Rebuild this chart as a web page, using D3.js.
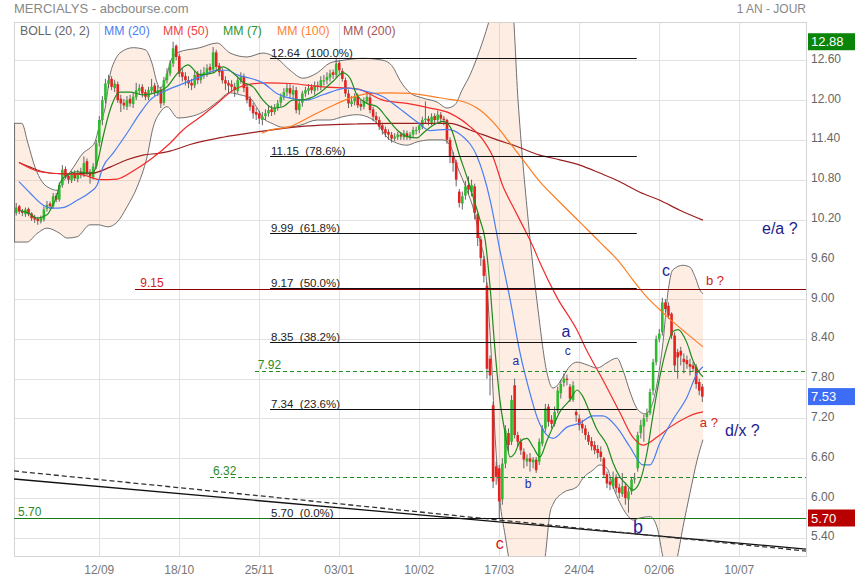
<!DOCTYPE html>
<html><head><meta charset="utf-8">
<script src="https://cdn.jsdelivr.net/npm/d3@7/dist/d3.min.js"></script>
<style>
body{margin:0;background:#fff;}
svg{display:block;font-family:"Liberation Sans",Arial,sans-serif;}
</style></head><body>
<svg id="c" width="855" height="580"></svg>
<script>
// ---------- DATA ----------
const firstDay = -27; // trading-day index of first candle (0 = 12/09)
const dateTicks = [0, 26, 52, 78, 104, 130, 156, 182, 208];
const dateLabels = ["12/09","18/10","25/11","03/01","10/02","17/03","24/04","02/06","10/07"];
const priceTicks = [12.6, 12.0, 11.4, 10.8, 10.2, 9.6, 9.0, 8.4, 7.8, 7.2, 6.6, 6.0, 5.4];

const closes = [
10.38,10.32,10.30,10.35,10.28,10.22,10.20,10.18,10.22,10.35,
10.42,10.40,10.55,10.50,10.72,10.95,10.85,10.80,10.88,10.82,
10.90,10.88,11.05,10.90,10.85,11.00,11.35,11.70,12.00,12.25,
12.30,12.20,12.25,12.00,11.95,11.92,12.00,11.95,12.05,12.15,
12.18,12.10,12.05,12.15,12.20,12.12,12.15,11.95,12.30,12.40,
12.55,12.78,12.65,12.40,12.35,12.30,12.25,12.22,12.38,12.30,
12.40,12.42,12.48,12.45,12.72,12.50,12.42,12.30,12.25,12.22,
12.20,12.15,12.30,12.35,12.18,12.00,11.90,11.80,11.78,11.72,
11.75,11.80,11.85,11.82,11.88,11.95,12.05,12.12,12.18,12.10,
12.15,11.85,11.95,12.10,12.15,12.18,12.15,12.22,12.20,12.30,
12.30,12.35,12.40,12.38,12.55,12.45,12.32,12.10,11.95,11.98,
12.05,11.92,11.90,11.98,12.05,11.85,11.75,11.70,11.60,11.55,
11.50,11.48,11.42,11.45,11.48,11.45,11.50,11.45,11.48,11.55,
11.55,11.62,11.70,11.72,11.68,11.75,11.70,11.78,11.72,11.70,
11.40,11.15,11.05,10.80,10.45,10.55,10.70,10.65,10.72,10.30,
9.92,9.62,9.35,7.95,7.85,6.25,6.32,5.95,6.52,7.02,
6.80,7.48,6.95,6.85,6.72,6.58,6.60,6.55,6.58,6.42,
6.85,7.05,7.35,7.15,7.12,7.30,7.62,7.72,7.80,7.78,
7.50,7.70,7.25,7.10,7.05,6.95,6.85,6.78,6.72,6.68,
6.62,6.35,6.22,6.20,6.30,6.15,6.08,6.18,6.00,6.10,
6.28,6.30,6.95,7.10,7.20,7.28,7.60,8.05,8.40,8.48,
8.95,8.85,8.75,8.45,8.00,8.12,8.15,8.05,8.02,7.98,
7.95,7.72,7.62,7.53
];
const opens = [
10.30,10.40,10.33,10.28,10.36,10.29,10.24,10.21,10.17,10.20,
10.36,10.44,10.40,10.56,10.50,10.72,10.96,10.86,10.79,10.90,
10.81,10.92,10.88,11.08,10.92,10.84,11.00,11.36,11.70,12.00,
12.24,12.32,12.18,12.24,12.02,11.96,11.90,12.02,11.94,12.04,
12.14,12.20,12.12,12.04,12.14,12.22,12.10,12.16,11.96,12.30,
12.40,12.55,12.82,12.66,12.42,12.36,12.30,12.26,12.22,12.40,
12.30,12.38,12.40,12.50,12.46,12.72,12.52,12.44,12.30,12.26,
12.24,12.20,12.14,12.30,12.36,12.20,12.02,11.92,11.82,11.80,
11.70,11.76,11.80,11.86,11.82,11.88,11.96,12.04,12.12,12.18,
12.08,12.15,11.85,11.96,12.10,12.14,12.20,12.14,12.22,12.20,
12.28,12.30,12.34,12.42,12.38,12.56,12.44,12.30,12.10,11.94,
11.98,12.05,11.94,11.90,11.98,12.04,11.86,11.76,11.70,11.62,
11.56,11.52,11.48,11.42,11.44,11.48,11.44,11.50,11.44,11.48,
11.54,11.55,11.60,11.70,11.72,11.66,11.76,11.70,11.78,11.72,
11.70,11.40,11.16,11.06,10.62,10.44,10.56,10.72,10.62,10.70,
10.28,9.90,9.60,9.20,8.10,7.40,6.48,6.45,5.98,6.52,
6.98,6.85,7.70,6.95,6.85,6.70,6.55,6.60,6.54,6.58,
6.55,6.82,7.05,7.38,7.18,7.12,7.32,7.58,7.74,7.80,
7.68,7.48,7.30,7.20,7.12,7.05,6.95,6.86,6.80,6.74,
6.70,6.60,6.36,6.25,6.18,6.32,6.16,6.06,6.18,5.98,
6.10,6.28,6.45,6.98,7.08,7.22,7.28,7.62,8.05,8.40,
8.50,8.95,8.90,8.78,8.45,8.20,8.22,8.10,8.08,8.02,
8.00,7.98,7.75,7.68
];
const highs = [
10.45,10.42,10.36,10.38,10.38,10.31,10.27,10.24,10.26,10.40,
10.48,10.47,10.60,10.60,10.76,11.02,11.00,10.90,10.93,10.94,
10.95,10.98,11.15,11.12,10.96,11.05,11.40,11.76,12.06,12.32,
12.38,12.36,12.30,12.28,12.08,12.02,12.06,12.08,12.12,12.26,
12.24,12.24,12.16,12.20,12.32,12.26,12.22,12.20,12.35,12.48,
12.60,12.88,12.84,12.70,12.48,12.42,12.36,12.32,12.45,12.44,
12.46,12.50,12.54,12.55,12.80,12.76,12.56,12.48,12.36,12.30,
12.30,12.26,12.36,12.42,12.40,12.24,12.06,11.96,11.88,11.84,
11.82,11.86,11.92,11.92,11.94,12.00,12.10,12.18,12.25,12.24,
12.22,12.20,12.00,12.14,12.20,12.24,12.24,12.28,12.28,12.36,
12.38,12.42,12.46,12.46,12.64,12.60,12.48,12.34,12.16,12.06,
12.10,12.10,12.00,12.04,12.12,12.08,11.90,11.82,11.75,11.66,
11.60,11.56,11.52,11.50,11.52,11.52,11.55,11.54,11.52,11.60,
11.60,11.66,11.75,11.98,11.76,11.80,11.80,11.84,11.82,11.76,
11.72,11.44,11.22,11.10,10.66,10.62,10.78,10.85,10.80,10.74,
10.30,9.95,9.65,9.25,8.15,7.45,6.55,6.50,6.60,7.10,
7.05,7.55,7.80,7.00,6.90,6.75,6.66,6.68,6.62,6.62,
6.90,7.10,7.42,7.42,7.25,7.38,7.68,7.78,7.88,7.86,
7.72,7.76,7.34,7.26,7.18,7.10,7.00,6.92,6.86,6.80,
6.78,6.62,6.40,6.30,6.40,6.36,6.22,6.38,6.22,6.15,
6.32,6.38,7.00,7.18,7.26,7.35,7.65,8.10,8.45,8.55,
9.02,9.00,8.95,8.80,8.50,8.25,8.28,8.18,8.15,8.10,
8.05,8.02,7.80,7.72
];
const lows = [
10.26,10.28,10.25,10.24,10.25,10.18,10.15,10.12,10.14,10.17,
10.32,10.35,10.36,10.46,10.47,10.68,10.82,10.74,10.75,10.78,
10.76,10.82,10.84,10.86,10.74,10.80,10.96,11.30,11.62,11.95,
12.18,12.15,12.12,11.96,11.82,11.86,11.85,11.90,11.88,12.00,
12.08,12.04,12.00,12.00,12.10,12.06,12.06,11.88,11.92,12.25,
12.36,12.50,12.60,12.35,12.28,12.22,12.18,12.15,12.18,12.24,
12.25,12.32,12.35,12.40,12.42,12.45,12.36,12.25,12.15,12.10,
12.12,12.05,12.10,12.25,12.12,11.95,11.84,11.72,11.70,11.64,
11.62,11.70,11.75,11.76,11.78,11.84,11.90,12.00,12.06,12.02,
12.02,11.80,11.78,11.90,12.05,12.08,12.10,12.08,12.14,12.15,
12.22,12.24,12.28,12.32,12.34,12.40,12.28,12.05,11.88,11.90,
11.92,11.88,11.84,11.86,11.94,11.80,11.68,11.64,11.55,11.48,
11.44,11.40,11.36,11.38,11.40,11.40,11.40,11.40,11.40,11.44,
11.48,11.50,11.56,11.64,11.62,11.62,11.64,11.66,11.66,11.62,
11.34,11.05,10.92,10.70,10.38,10.35,10.50,10.58,10.55,10.20,
9.80,9.50,9.25,7.80,7.55,6.15,6.20,5.70,5.90,6.45,
6.70,6.80,6.90,6.78,6.65,6.45,6.48,6.40,6.45,6.38,
6.50,6.78,7.00,7.08,7.05,7.08,7.28,7.50,7.68,7.70,
7.45,7.45,7.15,7.02,6.98,6.88,6.80,6.72,6.66,6.60,
6.55,6.30,6.15,6.12,6.14,6.08,6.00,6.02,5.90,5.78,
6.05,6.22,6.40,6.90,6.85,7.15,7.25,7.55,8.00,8.35,
8.45,8.80,8.70,8.40,7.90,7.80,8.00,7.88,7.95,7.85,
7.90,7.65,7.55,7.45
];

// indicator lines: [trading-day index, price]
const mm7 = [[-26.1,10.34],[-23.2,10.30],[-20.2,10.22],[-17.0,10.27],[-15.4,10.39],[-13.7,10.57],[-12.8,10.75],[-10.5,10.87],[-7.2,10.92],[-4.0,10.90],[-2.0,10.91],[-0.4,11.10],[1.2,11.44],[3.5,11.85],[6.7,12.12],[10.0,12.12],[14.2,12.08],[18.8,12.12],[22.0,12.20],[25.3,12.40],[28.8,12.53],[32.7,12.38],[37.0,12.41],[40.2,12.50],[43.5,12.41],[46.7,12.27],[50.0,12.20],[53.2,12.00],[56.4,11.88],[59.7,11.90],[62.9,12.00],[65.2,12.00],[68.5,12.03],[72.7,12.15],[75.9,12.28],[79.2,12.41],[81.5,12.33],[83.7,12.08],[87.0,11.95],[90.3,11.90],[93.5,11.73],[96.8,11.55],[100.0,11.45],[103.3,11.43],[105.2,11.50],[108.5,11.62],[111.7,11.68],[114.0,11.60],[117.2,11.15],[119.5,10.84],[121.5,10.54],[123.7,10.20],[125.4,9.90],[127.0,9.19],[128.6,8.24],[130.2,7.48],[131.9,6.98],[133.5,6.62],[135.1,6.68],[136.7,6.85],[139.0,6.90],[141.0,6.77],[143.2,6.62],[145.5,6.87],[147.4,7.07],[149.7,7.30],[153.0,7.48],[155.3,7.63],[157.2,7.53],[159.5,7.28],[161.8,7.03],[165.0,6.80],[167.0,6.53],[169.2,6.32],[171.5,6.20],[173.4,6.12],[175.7,6.25],[178.0,6.68],[179.9,7.23],[182.2,7.83],[184.5,8.28],[186.4,8.51],[188.1,8.54],[191.0,8.34],[192.9,8.08],[195.2,7.88],[196.2,7.83]];
const mm20 = [[-26.1,10.77],[-22.5,10.60],[-18.3,10.42],[-15.0,10.37],[-11.8,10.38],[-7.2,10.49],[-3.0,10.61],[-0.7,10.72],[1.2,10.99],[4.5,11.20],[9.0,11.50],[13.2,11.80],[16.5,12.00],[22.0,12.15],[26.2,12.23],[32.7,12.35],[38.3,12.45],[41.5,12.45],[44.8,12.38],[49.0,12.33],[53.2,12.26],[57.7,12.10],[62.0,12.03],[67.5,12.00],[72.7,12.08],[80.5,12.18],[87.0,12.13],[92.2,12.05],[96.8,11.90],[103.3,11.67],[107.5,11.54],[113.0,11.56],[118.2,11.45],[122.8,11.15],[127.0,10.50],[130.2,9.74],[133.5,9.00],[136.7,8.20],[140.0,7.58],[142.6,7.18],[145.5,6.95],[147.5,6.90],[152.0,7.07],[156.2,7.13],[160.4,7.24],[163.7,7.24],[168.2,7.07],[172.5,6.77],[176.7,6.50],[179.0,6.50],[182.2,6.83],[186.4,7.18],[191.0,7.52],[194.3,7.88],[196.2,7.98]];
const mm50 = [[-26.1,11.06],[-19.3,10.92],[-12.8,10.89],[-6.3,10.88],[-3.0,10.84],[0.2,10.80],[5.8,10.81],[11.0,10.93],[16.5,11.10],[23.0,11.35],[27.2,11.55],[32.7,11.74],[38.3,11.95],[43.5,12.15],[48.0,12.23],[54.5,12.26],[62.0,12.25],[72.7,12.20],[83.7,12.17],[92.2,12.00],[100.0,11.95],[107.5,11.88],[114.0,11.80],[120.5,11.60],[124.7,11.40],[127.9,11.15],[131.2,10.70],[134.4,10.40],[137.7,10.10],[141.0,9.79],[143.2,9.55],[148.7,9.03],[155.3,8.53],[158.5,8.22],[163.7,7.78],[169.2,7.29],[173.4,6.92],[176.7,6.80],[181.3,6.92],[185.5,7.07],[191.0,7.22],[194.3,7.28],[196.2,7.30]];
const mm100 = [[52.8,11.50],[55.5,11.55],[62.0,11.60],[68.5,11.75],[75.0,11.90],[81.5,12.03],[88.0,12.10],[94.5,12.11],[101.0,12.10],[107.5,12.06],[114.0,12.01],[117.2,11.99],[123.7,11.85],[129.3,11.60],[133.5,11.35],[137.7,11.10],[143.2,10.77],[149.7,10.46],[156.2,10.16],[162.7,9.86],[169.2,9.55],[173.4,9.29],[178.0,9.03],[182.2,8.84],[186.4,8.66],[191.0,8.48],[196.2,8.28]];
const mm200 = [[-26.1,11.06],[-22.5,10.99],[-18.3,10.92],[-12.8,10.89],[-7.2,10.89],[-2.0,10.90],[3.5,10.99],[9.0,11.10],[14.2,11.17],[19.7,11.20],[23.0,11.23],[29.5,11.33],[40.2,11.44],[51.3,11.52],[65.2,11.60],[83.7,11.64],[94.5,11.65],[107.5,11.65],[114.0,11.65],[120.5,11.55],[129.3,11.40],[135.8,11.30],[143.2,11.17],[149.7,11.10],[156.2,11.02],[162.7,10.90],[169.2,10.77],[175.7,10.61],[182.2,10.49],[188.7,10.34],[196.2,10.19]];
const bollUpper = [[-27.7,11.65],[-25.2,11.65],[-23.2,11.35],[-20.9,10.99],[-18.6,10.77],[-16.0,10.67],[-13.7,10.64],[-11.8,10.77],[-8.5,10.98],[-5.3,11.20],[-3.0,11.28],[-1.4,11.37],[0.2,11.65],[1.9,11.88],[3.5,12.38],[5.1,12.60],[6.7,12.71],[11.0,12.79],[14.9,12.76],[17.1,12.56],[18.8,12.26],[19.7,12.18],[21.4,12.30],[23.6,12.63],[25.6,12.72],[32.7,12.79],[38.3,12.86],[42.5,12.71],[48.0,12.65],[53.2,12.71],[57.7,12.63],[62.0,12.45],[66.2,12.33],[70.8,12.41],[75.0,12.56],[79.2,12.60],[85.7,12.63],[92.2,12.60],[95.4,12.50],[97.7,12.30],[101.0,12.11],[105.2,12.03],[109.8,11.97],[113.0,11.88],[115.6,11.93],[117.9,12.15],[120.5,12.38],[123.7,12.76],[126.3,13.13],[128.6,13.51],[131.2,13.73],[134.1,13.51],[136.1,12.00],[139.4,10.19],[142.6,8.84],[145.5,7.89],[147.4,7.66],[149.1,7.71],[150.7,7.83],[153.0,7.99],[155.3,8.05],[158.5,8.01],[161.8,7.96],[165.0,8.04],[168.2,8.11],[170.2,7.93],[172.5,7.60],[175.1,7.33],[177.4,7.27],[179.6,7.40],[181.3,7.73],[183.2,8.34],[184.8,9.09],[186.4,9.44],[189.7,9.51],[192.0,9.48],[193.7,9.33],[195.2,9.14],[196.2,9.08]];
const bollLower = [[-27.7,9.86],[-23.5,9.86],[-20.2,9.99],[-17.0,10.07],[-12.8,9.99],[-10.5,9.92],[-7.2,9.94],[-3.0,10.12],[-0.4,10.12],[2.8,10.09],[5.8,10.16],[9.0,10.39],[12.3,10.69],[15.5,11.14],[17.5,11.59],[19.7,11.81],[22.0,11.90],[25.6,11.73],[29.5,11.75],[33.7,11.82],[38.3,11.97],[42.5,12.11],[45.7,12.08],[49.0,12.03],[51.3,11.88],[53.2,11.73],[56.1,11.65],[59.7,11.59],[65.2,11.62],[70.8,11.70],[75.0,11.70],[79.2,11.75],[83.7,11.78],[87.0,11.75],[90.3,11.65],[93.5,11.44],[96.8,11.35],[100.0,11.32],[103.3,11.37],[107.5,11.40],[111.7,11.40],[114.0,11.32],[116.2,11.02],[119.5,10.64],[122.1,10.27],[123.7,9.89],[125.4,9.51],[126.3,8.99],[127.6,7.98],[128.6,6.98],[130.2,5.97],[131.9,5.44],[133.5,4.99],[136.7,4.46],[140.0,4.46],[143.2,4.84],[144.9,5.11],[146.5,5.78],[147.4,5.90],[150.7,6.08],[155.3,6.17],[157.2,6.30],[160.4,6.42],[162.7,6.50],[165.0,6.45],[167.0,6.17],[169.2,5.93],[171.5,5.75],[173.4,5.67],[175.7,5.70],[179.0,5.72],[181.3,5.56],[183.2,5.11],[185.5,4.76],[187.7,5.07],[189.7,5.56],[192.0,6.08],[194.3,6.57],[196.2,6.88]];

// Fibonacci retracement
const fibValues = [12.64, 11.15, 9.99, 9.17, 8.35, 7.34, 5.70];
const fibPct = ["100.0%", "78.6%", "61.8%", "50.0%", "38.2%", "23.6%", "0.0%"];
const fibSpan = [55.5, 174.7];
// horizontal levels: value, start index
const levelValues = [9.15, 7.92, 6.32, 5.70];
const levelStart = [11.6, 50.6, 36.0, -27.7];
const levelLabelAt = [13.3, 51.5, 37.0, -26.4];
// trend lines [index, price]
const trendSolid = [[-27.72, 6.288], [229.7, 5.232]];
const trendDashed = [[-27.72, 6.409], [229.7, 5.202]];
// wave labels
const waveText = ["c", "a", "b", "a", "c", "b", "c", "b ?", "a ?", "d/x ?", "e/a ?"];
const waveAt = [[130.2,5.23],[135.4,8.01],[139.4,6.15],[151.7,8.43],[152.3,8.16],[175.1,5.47],[184.2,9.35],[197.2,9.21],[195.2,7.07],[203.4,6.94],[215.4,9.98]];
const waveKind = ["redBig","blueSmall","blueSmall","blueBig","blueSmall","blueHuge","blueBig","redSmall","redSmall","navyStart","navyStart"];
// price tags on the axis
const tagValues = [12.88, 7.53, 5.70];
const legendNames = ["BOLL (20, 2)", "MM (20)", "MM (50)", "MM (7)", "MM (100)", "MM (200)"];

// ---------- DRAW ----------
const L = 14, R = 806, T = 22.7, B = 556.3;
const x = d3.scaleLinear().domain([-27.72, 229.7]).range([L, R]);
const y = d3.scaleLinear().domain([5.4, 12.6]).range([537.9, 60.3]);
const svg = d3.select("#c");
svg.append("rect").attr("width", 855).attr("height", 580).attr("fill", "#fff");
svg.append("defs").append("clipPath").attr("id", "plot")
  .append("rect").attr("x", L).attr("y", T).attr("width", R - L).attr("height", B - T);

const snap = v => Math.round(v) + 0.5;
// grid
const grid = svg.append("g").attr("shape-rendering", "crispEdges");
priceTicks.forEach(v => grid.append("line").attr("x1", L).attr("x2", R)
  .attr("y1", snap(y(v))).attr("y2", snap(y(v))).attr("stroke", "#e2e2e2"));
dateTicks.forEach(d => grid.append("line").attr("y1", T).attr("y2", B)
  .attr("x1", snap(x(d))).attr("x2", snap(x(d))).attr("stroke", "#e2e2e2"));
grid.append("rect").attr("x", L + 0.5).attr("y", T).attr("width", R - L).attr("height", B - T)
  .attr("fill", "none").attr("stroke", "#d4d4d4");

const plot = svg.append("g").attr("clip-path", "url(#plot)");
const line = d3.line().x(d => x(d[0])).y(d => y(d[1])).curve(d3.curveMonotoneX);

// Bollinger band
const upPath = line(bollUpper);
const lowRev = line(bollLower.slice().reverse());
plot.append("path").attr("d", upPath + "L" + lowRev.slice(1) + "Z")
  .attr("fill", "rgba(245,165,115,0.2)");
plot.append("path").attr("d", upPath).attr("fill", "none").attr("stroke", "#707070").attr("stroke-width", 1);
plot.append("path").attr("d", line(bollLower)).attr("fill", "none").attr("stroke", "#707070").attr("stroke-width", 1);
plot.append("line").attr("x1", x(bollUpper[0][0]) + 0.5).attr("x2", x(bollLower[0][0]) + 0.5)
  .attr("y1", y(bollUpper[0][1])).attr("y2", y(bollLower[0][1])).attr("stroke", "#707070");

// candles
const candles = closes.map((c, k) => ({ i: firstDay + k, o: opens[k], h: highs[k], l: lows[k], c }));
const cg = plot.append("g");
candles.forEach(d => {
  const up = d.c >= d.o;
  const cx = x(d.i);
  cg.append("line").attr("x1", cx).attr("x2", cx).attr("y1", y(d.h)).attr("y2", y(d.l))
    .attr("stroke", "#555").attr("stroke-width", 0.9);
  const top = y(Math.max(d.o, d.c)), bot = y(Math.min(d.o, d.c));
  cg.append("rect").attr("x", cx - 1.3).attr("width", 2.6).attr("y", top)
    .attr("height", Math.max(1, bot - top)).attr("fill", up ? "#2fba2f" : "#e2231f");
});

// moving averages
const maSeries = [[mm200, "#9b2121"], [mm100, "#ff7d22"], [mm50, "#f22b2b"], [mm20, "#4a7df2"], [mm7, "#1e8c1e"]];
maSeries.forEach(([data, col]) => plot.append("path").attr("d", line(data))
  .attr("fill", "none").attr("stroke", col).attr("stroke-width", 1.2));

// trend lines
plot.append("path").attr("d", d3.line().x(d => x(d[0])).y(d => y(d[1]))(trendSolid))
  .attr("stroke", "#111").attr("stroke-width", 1.3).attr("fill", "none");
plot.append("path").attr("d", d3.line().x(d => x(d[0])).y(d => y(d[1]))(trendDashed))
  .attr("stroke", "#333").attr("stroke-width", 1.3).attr("stroke-dasharray", "5,3").attr("fill", "none");

// horizontal levels
const levelStyle = [
  { col: "#8b0000", dash: null },
  { col: "#1f8a1f", dash: "4,3" },
  { col: "#1f8a1f", dash: "4,3" },
  { col: "#1a7a1a", dash: null }
];
const levelTextCol = ["#d42020", "#2a8a2a", "#2a8a2a", "#2a8a2a"];
levelValues.forEach((v, k) => {
  const yy = snap(y(v));
  const ln = plot.append("line").attr("x1", x(levelStart[k])).attr("x2", R).attr("y1", yy).attr("y2", yy)
    .attr("stroke", levelStyle[k].col).attr("stroke-width", 1);
  if (levelStyle[k].dash) ln.attr("stroke-dasharray", levelStyle[k].dash);
  svg.append("text").attr("x", x(levelLabelAt[k])).attr("y", yy - 3)
    .attr("font-size", 12).attr("fill", levelTextCol[k]).text(v.toFixed(2));
});

// fibonacci lines
fibValues.forEach((v, k) => {
  const yy = snap(y(v));
  plot.append("line").attr("x1", x(fibSpan[0])).attr("x2", x(fibSpan[1])).attr("y1", yy).attr("y2", yy)
    .attr("stroke", "#111").attr("stroke-width", 1);
  svg.append("text").attr("x", x(fibSpan[0]) + 1).attr("y", yy - 2).attr("font-size", 11.5)
    .attr("fill", "#222").attr("xml:space", "preserve").text(v.toFixed(2) + "  (" + fibPct[k] + ")");
});

// wave labels
const waveStyle = {
  redBig: { size: 16, col: "#e01010", anchor: "middle" },
  redSmall: { size: 13, col: "#d42020", anchor: "start" },
  blueSmall: { size: 12, col: "#2727a8", anchor: "middle" },
  blueBig: { size: 16, col: "#22229a", anchor: "middle" },
  blueHuge: { size: 18, col: "#22229a", anchor: "middle" },
  navyStart: { size: 16, col: "#1c1c8e", anchor: "start" }
};
waveText.forEach((t, k) => {
  const st = waveStyle[waveKind[k]];
  svg.append("text").attr("x", x(waveAt[k][0])).attr("y", y(waveAt[k][1]))
    .attr("font-size", st.size).attr("fill", st.col).attr("text-anchor", st.anchor)
    .attr("xml:space", "preserve").text(t);
});

// legend
const legendCols = ["#666", "#4a7df2", "#f04444", "#2a962a", "#ff8233", "#a55555"];
const legendX = [20, 104, 163, 223, 277, 343];
legendNames.forEach((n, k) => svg.append("text").attr("x", legendX[k]).attr("y", 35)
  .attr("font-size", 12.3).attr("fill", legendCols[k]).text(n));

// axes
priceTicks.forEach(v => svg.append("text").attr("x", 811).attr("y", y(v) + 2.5)
  .attr("font-size", 12).attr("fill", "#666").text(v.toFixed(2)));
dateTicks.forEach((d, k) => svg.append("text").attr("x", x(d)).attr("y", 574)
  .attr("font-size", 12).attr("fill", "#777").attr("text-anchor", "middle").text(dateLabels[k]));

// header
svg.append("text").attr("x", 14).attr("y", 13).attr("font-size", 13).attr("fill", "#888").text("MERCIALYS - abcbourse.com");
svg.append("text").attr("x", 806).attr("y", 13).attr("font-size", 12).attr("fill", "#888")
  .attr("text-anchor", "end").text("1 AN - JOUR");

// price tags
const tagCols = ["#0a850a", "#3d6cf5", "#b80000"];
tagValues.forEach((v, k) => {
  const yy = y(v);
  svg.append("rect").attr("x", 808).attr("y", yy - 8.5).attr("width", 47).attr("height", 17).attr("fill", tagCols[k]);
  svg.append("text").attr("x", 811).attr("y", yy + 4.5).attr("font-size", 13).attr("fill", "#fff").text(v.toFixed(2));
});
</script>
</body></html>
